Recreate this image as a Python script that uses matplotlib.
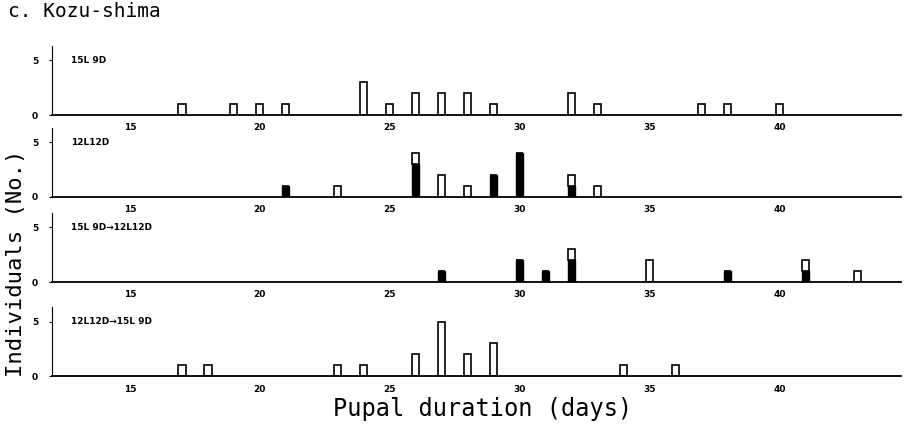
import matplotlib.pyplot as plt

# pupal duration (days) and counts
# black = solid part of bar, white = open part stacked on top
days_15L9D = [17, 19, 20, 21, 24, 25, 26, 27, 28, 29, 32, 33, 37, 38, 40]
black_15L9D = [0, 0, 0, 0, 0, 0, 0, 0, 0, 0, 0, 0, 0, 0, 0]
white_15L9D = [1, 1, 1, 1, 3, 1, 2, 2, 2, 1, 2, 1, 1, 1, 1]

days_12L12D = [21, 23, 26, 27, 28, 29, 30, 32, 33]
black_12L12D = [1, 0, 3, 0, 0, 2, 4, 1, 0]
white_12L12D = [0, 1, 1, 2, 1, 0, 0, 1, 1]

days_15to12 = [27, 30, 31, 32, 35, 38, 41, 43]
black_15to12 = [1, 2, 1, 2, 0, 1, 1, 0]
white_15to12 = [0, 0, 0, 1, 2, 0, 1, 1]

days_12to15 = [17, 18, 23, 24, 26, 27, 28, 29, 34, 36]
black_12to15 = [0, 0, 0, 0, 0, 0, 0, 0, 0, 0]
white_12to15 = [1, 1, 1, 1, 2, 5, 2, 3, 1, 1]

panel_labels = ["15L 9D", "12L12D", "15L 9D\u219212L12D", "12L12D\u219215L 9D"]
xticks = [15, 20, 25, 30, 35, 40]
yticks = [0, 5]

panels = [
    (days_15L9D, black_15L9D, white_15L9D),
    (days_12L12D, black_12L12D, white_12L12D),
    (days_15to12, black_15to12, white_15to12),
    (days_12to15, black_12to15, white_12to15),
]

fig = plt.figure(figsize=(9.06, 4.28), dpi=100)
bottoms = [0.731, 0.540, 0.341, 0.121]
mono = "DejaVu Sans Mono"

for i, (days, black, white) in enumerate(panels):
    ax = fig.add_axes([0.0574, bottoms[i], 0.9376, 0.161])
    ax.patch.set_visible(False)  # keep tick labels of the panel above visible
    ax.bar(days, black, width=0.28, color="black", edgecolor="black", linewidth=1)
    ax.bar(days, white, bottom=black, width=0.28, color="white", edgecolor="black", linewidth=1.2)
    ax.set_xlim(12, 44.7)
    ax.set_ylim(0, 6.3)
    ax.spines["top"].set_visible(False)
    ax.spines["right"].set_visible(False)
    ax.spines["left"].set_linewidth(0.8)
    ax.spines["bottom"].set_linewidth(1.3)
    ax.set_xticks(xticks)
    ax.set_yticks(yticks)
    ax.tick_params(axis="x", length=0, pad=6, labelsize=6.5)
    ax.tick_params(axis="y", length=2, pad=8, labelsize=6.5)
    for lab in ax.get_xticklabels() + ax.get_yticklabels():
        lab.set_fontweight("bold")
    ax.text(12.75, 5, panel_labels[i], fontsize=6.5, fontweight="bold", va="center")

fig.text(0.009, 0.972, "c. Kozu-shima", fontfamily=mono, fontsize=14, va="center")
fig.text(0.533, 0.045, "Pupal duration (days)", fontfamily=mono, fontsize=17, ha="center", va="center")
fig.text(0.018, 0.385, "Individuals (No.)", fontfamily=mono, fontsize=16, rotation=90, ha="center", va="center")

fig.savefig("out.png", dpi=100)
